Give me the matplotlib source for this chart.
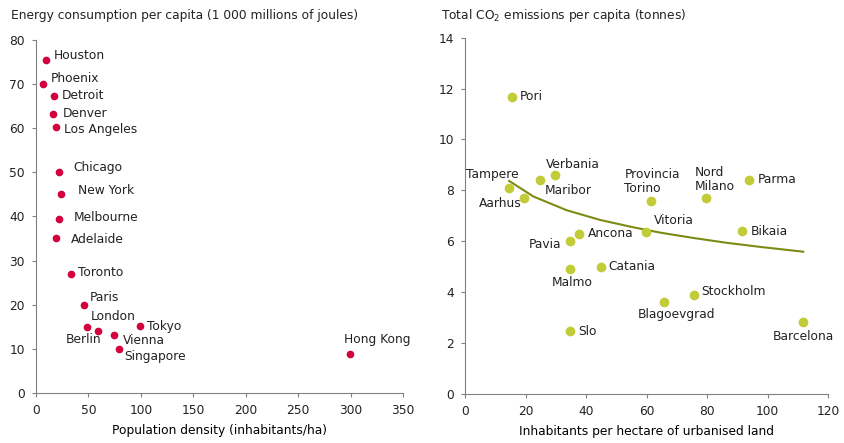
import matplotlib.pyplot as plt

# Energy consumption vs population density
cities_e = ['Houston', 'Phoenix', 'Detroit', 'Denver', 'Los Angeles', 'Chicago',
            'New York', 'Melbourne', 'Adelaide', 'Toronto', 'Paris', 'London',
            'Berlin', 'Vienna', 'Singapore', 'Tokyo', 'Hong Kong']
density = [10, 7, 17.5, 16, 19, 21.6, 24, 21.6, 19, 33.7, 46, 59, 49, 74, 79, 99, 299]
energy = [75.5, 70, 67.3, 63.3, 60.3, 50, 45, 39.5, 35.2, 27, 20, 14.1, 15, 13.1, 10, 15.1, 8.9]

# label offsets (pixels) and alignment
lab_e = {
    'Houston': (7, 4, 'left'), 'Phoenix': (7, 6, 'left'), 'Detroit': (7, 1, 'left'),
    'Denver': (10, 0, 'left'), 'Los Angeles': (8, -3, 'left'), 'Chicago': (15, 5, 'left'),
    'New York': (17, 4, 'left'), 'Melbourne': (15, 1, 'left'), 'Adelaide': (15, -2, 'left'),
    'Toronto': (7, 1, 'left'), 'Paris': (6, 7, 'left'), 'London': (-7, 14, 'left'),
    'Berlin': (14, -13, 'right'), 'Vienna': (9, -5, 'left'), 'Singapore': (5, -8, 'left'),
    'Tokyo': (7, 0, 'left'), 'Hong Kong': (-6, 14, 'left'),
}

# CO2 emissions vs urban density
cities_c = ['Pori', 'Tampere', 'Aarhus', 'Maribor', 'Verbania', 'Provincia\nTorino',
            'Nord\nMilano', 'Parma', 'Vitoria', 'Bikaia', 'Ancona', 'Pavia', 'Malmo',
            'Catania', 'Stockholm', 'Blagoevgrad', 'Slo', 'Barcelona']
inhab = [15.6, 14.7, 19.6, 24.8, 29.6, 61.6, 79.7, 93.8, 59.7, 91.6, 37.8, 34.8, 34.8,
         44.8, 75.7, 65.7, 34.8, 111.6]
co2 = [11.68, 8.08, 7.71, 8.41, 8.6, 7.6, 7.71, 8.41, 6.38, 6.4, 6.29, 6.0, 4.9,
       5.0, 3.9, 3.6, 2.47, 2.83]

lab_c = {
    'Pori': (8, 0, 'left'), 'Tampere': (-43, 14, 'left'), 'Aarhus': (-3, -6, 'right'),
    'Maribor': (5, -11, 'left'), 'Verbania': (-9, 11, 'left'),
    'Provincia\nTorino': (-27, 19, 'left'), 'Nord\nMilano': (-11, 18, 'left'),
    'Parma': (9, 0, 'left'), 'Vitoria': (8, 11, 'left'), 'Bikaia': (9, 0, 'left'),
    'Ancona': (9, 0, 'left'), 'Pavia': (-9, -3, 'right'), 'Malmo': (2, -13, 'center'),
    'Catania': (8, 0, 'left'), 'Stockholm': (7, 3, 'left'),
    'Blagoevgrad': (13, -12, 'center'), 'Slo': (8, 0, 'left'),
    'Barcelona': (1, -15, 'center'),
}

# logarithmic trend line
trend_x = [14.6, 22.6, 33.6, 44.6, 55.6, 64.5, 75.5, 86.5, 97.5, 111.8]
trend_y = [8.37, 7.76, 7.22, 6.84, 6.55, 6.34, 6.13, 5.94, 5.78, 5.59]

plt.rcParams['font.family'] = 'DejaVu Sans'
plt.rcParams['font.size'] = 8.8

fig = plt.figure(figsize=(8.45, 4.43), dpi=100)
ax1 = fig.add_axes([0.0426, 0.113, 0.4344, 0.7967])
ax2 = fig.add_axes([0.5503, 0.1106, 0.4297, 0.8044])

red = '#d2003c'
green = '#c2cc38'
olive = '#7d8a14'

ax1.plot(density, energy, 'o', color=red, ms=4.5, mec=red)
for name, x, y in zip(cities_e, density, energy):
    dx, dy, ha = lab_e[name]
    ax1.annotate(name, (x, y), xytext=(dx, dy), textcoords='offset pixels',
                 ha=ha, va='center', color='#222222')
ax1.set_xlim(0, 350)
ax1.set_ylim(0, 80)
ax1.set_xticks(range(0, 351, 50))
ax1.set_yticks(range(0, 81, 10))
ax1.set_xlabel('Population density (inhabitants/ha)', labelpad=5)

ax2.plot(trend_x, trend_y, color=olive, lw=1.5)
ax2.plot(inhab, co2, 'o', color=green, ms=6, mec=green)
for name, x, y in zip(cities_c, inhab, co2):
    dx, dy, ha = lab_c[name]
    ax2.annotate(name, (x, y), xytext=(dx, dy), textcoords='offset pixels',
                 ha=ha, va='center', color='#222222', linespacing=1.1)
ax2.set_xlim(0, 120)
ax2.set_ylim(0, 14)
ax2.set_xticks(range(0, 121, 20))
ax2.set_yticks(range(0, 15, 2))
ax2.set_xlabel('Inhabitants per hectare of urbanised land', labelpad=5)

for ax in (ax1, ax2):
    for s in ('top', 'right'):
        ax.spines[s].set_visible(False)
    for s in ('left', 'bottom'):
        ax.spines[s].set_color('#808080')
    ax.tick_params(direction='out', length=3, color='#808080', pad=5,
                   labelcolor='#222222')

fig.text(0.013, 0.965, 'Energy consumption per capita (1 000 millions of joules)',
         ha='left', va='center', color='#222222')
fig.text(0.522, 0.965, 'Total CO$_2$ emissions per capita (tonnes)',
         ha='left', va='center', color='#222222')

fig.savefig('out.png', dpi=100)
